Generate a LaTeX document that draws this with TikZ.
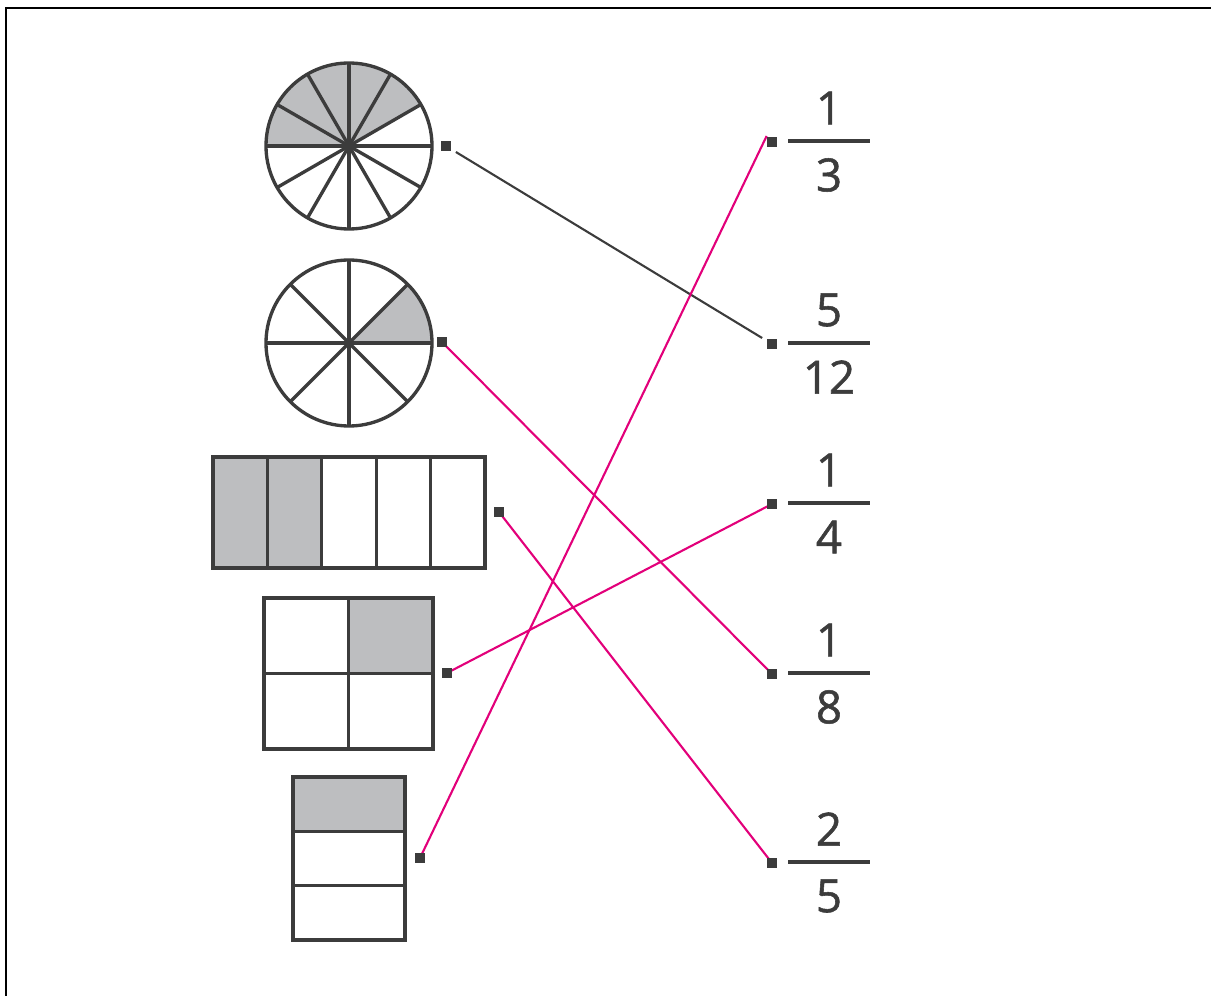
\documentclass[tikz,border=0pt]{standalone}
\usepackage{fontspec}
\setmainfont{Open Sans}
\newfontfamily\cifra[FakeBold=1.2]{Open Sans}
\usepackage{xcolor}
\usepackage{tikz}
\usetikzlibrary{positioning}

\definecolor{traco}{HTML}{3C3C3C}
\definecolor{cinza}{HTML}{BDBEC0}
\definecolor{rosa}{HTML}{E2007A}

\begin{document}
\begin{tikzpicture}[
    x=0.02cm, y=-0.02cm,
    figura/.style={draw=traco, line width=1.9pt, line join=miter},
    parte/.style={fill=cinza},
    ponto/.style={fill=traco, minimum size=2mm, inner sep=0pt},
    ligacao/.style={draw=rosa, line width=1.2pt},
    resposta/.style={draw=traco, line width=1.2pt},
    numero/.style={text=traco, font=\cifra\fontsize{26}{28}\selectfont, inner sep=0pt},
    barra/.style={draw=traco, line width=2.2pt}
]
    \useasboundingbox (0,0) rectangle (1211,996);
    \draw[black, line width=1.4pt] (6,996) -- (6,8) -- (1211,8);

    % circulo em 12 partes
    \coordinate (c1) at (349,146);
    \fill[parte] (c1) -- ++(-180:83) arc (-180:-30:83) -- cycle;
    \foreach \a in {0,30,...,330} \draw[figura] (c1) -- ++(\a:83);
    \draw[figura] (c1) circle[radius=83];

    % circulo em 8 partes
    \coordinate (c2) at (349,343);
    \fill[parte] (c2) -- ++(0:83) arc (0:-45:83) -- cycle;
    \foreach \a in {0,45,...,315} \draw[figura] (c2) -- ++(\a:83);
    \draw[figura] (c2) circle[radius=83];

    % retangulo em 5 colunas
    \fill[parte] (213,457) rectangle (321.8,568);
    \foreach \k in {1,...,4} \draw[figura] ({213+54.4*\k},457) -- ({213+54.4*\k},568);
    \draw[figura] (213,457) rectangle (485,568);

    % quadrado em 4 partes
    \fill[parte] (348.5,598) rectangle (433,673.5);
    \draw[figura] (348.5,598) -- (348.5,749) (264,673.5) -- (433,673.5);
    \draw[figura] (264,598) rectangle (433,749);

    % retangulo em 3 linhas
    \fill[parte] (293,777) rectangle (405,831.3);
    \draw[figura] (293,831.3) -- (405,831.3) (293,885.7) -- (405,885.7);
    \draw[figura] (293,777) rectangle (405,940);

    % pontos das figuras
    \node[ponto] (pizza12) at (446,146) {};
    \node[ponto] (pizza8) at (442,342) {};
    \node[ponto] (barra5) at (499,512) {};
    \node[ponto] (grade4) at (447,673) {};
    \node[ponto] (pilha3) at (420,858) {};

    % frações
    \foreach \n/\d/\y/\nome in {1/3/141/f13, 5/12/343/f512, 1/4/503/f14, 1/8/673/f18, 2/5/862/f25} {
        \node[ponto] (\nome) at (772,{\y+1}) {};
        \draw[barra] (788,\y) -- (870,\y);
        \node[numero] (num\nome) at (829,{\y-33}) {\n};
        \node[numero] (den\nome) at (829,{\y+34}) {\d};
    }

    \draw[resposta, shorten <=2.3mm, shorten >=2.3mm] (pizza12.center) -- (f512.center);
    \draw[ligacao] (pilha3.center) -- ([yshift=1.2mm]f13.west);
    \draw[ligacao] (pizza8.center) -- (f18.center);
    \draw[ligacao] (barra5.center) -- (f25.center);
    \draw[ligacao] (grade4.center) -- (f14.center);

    % pontos por cima
    \foreach \p in {pizza8, barra5, grade4, pilha3, f13, f14, f18, f25}
        \node[ponto] at (\p) {};
\end{tikzpicture}
\end{document}
